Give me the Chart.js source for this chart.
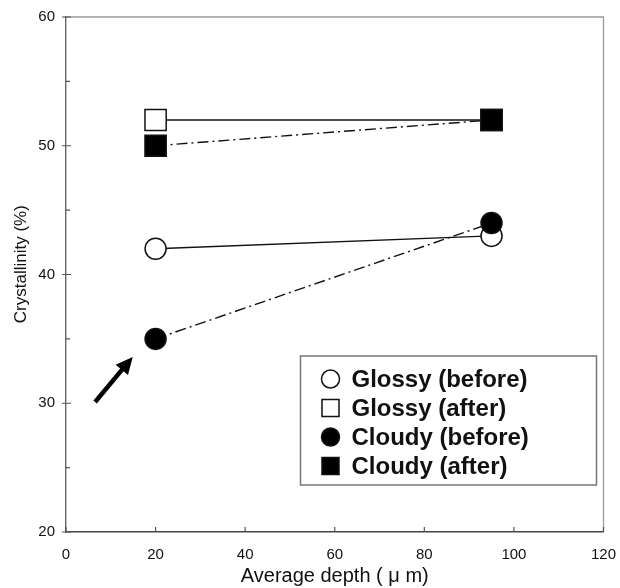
<!DOCTYPE html>
<html><head><meta charset="utf-8">
<script src="https://cdn.jsdelivr.net/npm/chart.js@4/dist/chart.umd.min.js"></script>
<style>html,body{margin:0;padding:0;background:#fff}</style>
</head><body>
<canvas id="c" width="620" height="588"></canvas>
<script>
// ---- data ----
const depths = [20, 95];
const glossyBefore = [42, 43];
const glossyAfter = [52, 52];
const cloudyBefore = [35, 44];
const cloudyAfter = [50, 52];
const xTickValues = [0, 20, 40, 60, 80, 100, 120];
const yTickValues = [20, 30, 40, 50, 60];
const yMinorTickValues = [25, 35, 45, 55];
const seriesLabels = ['Glossy (before)', 'Glossy (after)', 'Cloudy (before)', 'Cloudy (after)'];
const xTitle = 'Average depth ( μ m)';
const yTitle = 'Crystallinity (%)';
const arrowFrom = [6.5, 30.1];
const arrowTo = [14.9, 33.6];

const FONT = '"Liberation Sans", Arial, "Noto Sans CJK JP", sans-serif';
const toPts = ys => depths.map((x, i) => ({x: x, y: ys[i]}));
const DASHDOT = [11, 4, 2, 4];

const seriesStyles = [
  {style: 'circle', fill: '#fff', dash: [], radius: 10.5},
  {style: 'rect', fill: '#fff', dash: [], radius: 15},
  {style: 'circle', fill: '#000', dash: DASHDOT, radius: 10.5},
  {style: 'rect', fill: '#000', dash: DASHDOT, radius: 15}
];
const seriesData = [glossyBefore, glossyAfter, cloudyBefore, cloudyAfter];

const datasets = seriesData.map((d, i) => ({
  label: seriesLabels[i],
  data: toPts(d),
  borderColor: '#111',
  borderWidth: 1.4,
  borderDash: seriesStyles[i].dash,
  pointStyle: seriesStyles[i].style,
  pointRadius: seriesStyles[i].radius,
  pointHoverRadius: seriesStyles[i].radius,
  pointBackgroundColor: seriesStyles[i].fill,
  pointBorderColor: '#111',
  pointBorderWidth: 1.5,
  order: i < 2 ? 1 : 0,
  fill: false,
  tension: 0
}));

const decor = {
  id: 'decor',
  beforeDatasetsDraw(chart) {
    const {ctx, chartArea: a, scales: {x, y}} = chart;
    ctx.save();
    ctx.strokeStyle = '#9a9a9a';
    ctx.lineWidth = 1.3;
    ctx.beginPath();
    ctx.moveTo(a.left, a.top); ctx.lineTo(a.right, a.top); ctx.lineTo(a.right, a.bottom);
    ctx.stroke();
    ctx.strokeStyle = '#555';
    ctx.lineWidth = 1.2;
    ctx.beginPath();
    yTickValues.forEach(v => { const p = y.getPixelForValue(v); ctx.moveTo(a.left - 4, p); ctx.lineTo(a.left + 5, p); });
    yMinorTickValues.forEach(v => { const p = y.getPixelForValue(v); ctx.moveTo(a.left, p); ctx.lineTo(a.left + 4, p); });
    xTickValues.forEach(v => { const p = x.getPixelForValue(v); ctx.moveTo(p, a.bottom); ctx.lineTo(p, a.bottom - 5); });
    ctx.stroke();
    // y-axis title (slightly above centre, as in the original)
    ctx.fillStyle = '#111';
    ctx.font = '17px ' + FONT;
    ctx.textAlign = 'center'; ctx.textBaseline = 'middle';
    ctx.translate(21, a.top + (a.bottom - a.top) * 0.48);
    ctx.rotate(-Math.PI / 2);
    ctx.fillText(yTitle, 0, 0);
    ctx.restore();
  },
  afterDraw(chart) {
    const {ctx, chartArea: a, scales: {x, y}} = chart;
    ctx.save();
    const x0 = x.getPixelForValue(arrowFrom[0]), y0 = y.getPixelForValue(arrowFrom[1]);
    const x1 = x.getPixelForValue(arrowTo[0]), y1 = y.getPixelForValue(arrowTo[1]);
    const ang = Math.atan2(y1 - y0, x1 - x0);
    const ux = Math.cos(ang), uy = Math.sin(ang);
    const headL = 17, headW = 8;
    ctx.strokeStyle = '#000'; ctx.fillStyle = '#000';
    ctx.lineWidth = 4.5; ctx.lineCap = 'butt';
    ctx.beginPath(); ctx.moveTo(x0, y0); ctx.lineTo(x1 - ux * (headL - 2), y1 - uy * (headL - 2)); ctx.stroke();
    ctx.beginPath();
    ctx.moveTo(x1, y1);
    ctx.lineTo(x1 - ux * headL - uy * headW, y1 - uy * headL + ux * headW);
    ctx.lineTo(x1 - ux * headL + uy * headW, y1 - uy * headL - ux * headW);
    ctx.closePath(); ctx.fill();

    const bw = 296, bh = 129;
    const bx = a.right - 7 - bw, by = a.bottom - 47 - bh;
    ctx.fillStyle = '#fff';
    ctx.fillRect(bx, by, bw, bh);
    ctx.strokeStyle = '#777'; ctx.lineWidth = 1.5;
    ctx.strokeRect(bx, by, bw, bh);
    ctx.font = 'bold 24px ' + FONT;
    ctx.textBaseline = 'middle'; ctx.textAlign = 'left';
    seriesLabels.forEach((lab, i) => {
      const cy = by + 23 + 29 * i, cx = bx + 30;
      const s = seriesStyles[i];
      ctx.fillStyle = s.fill; ctx.strokeStyle = '#111'; ctx.lineWidth = 1.5;
      ctx.beginPath();
      if (s.style === 'circle') ctx.arc(cx, cy, 9, 0, Math.PI * 2);
      else ctx.rect(cx - 8.5, cy - 8.5, 17, 17);
      ctx.fill(); ctx.stroke();
      ctx.fillStyle = '#111';
      ctx.fillText(lab, bx + 51, cy + 1);
    });
    ctx.restore();
  }
};

new Chart(document.getElementById('c'), {
  type: 'line',
  data: {datasets},
  options: {
    responsive: false,
    animation: false,
    events: [],
    layout: {padding: {top: 17, right: 13, left: 0, bottom: 0}},
    plugins: {legend: {display: false}, tooltip: {enabled: false}},
    scales: {
      x: {
        type: 'linear', min: 0, max: 120,
        afterFit(s) { s.height = 56; s.paddingLeft = 0; s.paddingRight = 0; },
        afterBuildTicks(s) { s.ticks = xTickValues.map(v => ({value: v})); },
        grid: {display: false, drawTicks: false},
        border: {display: true, color: '#444', width: 1.4},
        ticks: {color: '#111', font: {family: FONT, size: 15}, padding: 14, maxRotation: 0, autoSkip: false},
        title: {display: true, text: xTitle, color: '#111', font: {family: FONT, size: 20}, padding: {top: 0, bottom: 0}}
      },
      y: {
        type: 'linear', min: 20, max: 60,
        afterFit(s) { s.width = 66; s.paddingTop = 0; s.paddingBottom = 0; },
        afterBuildTicks(s) { s.ticks = yTickValues.map(v => ({value: v})); },
        grid: {display: false, drawTicks: false},
        border: {display: true, color: '#666', width: 1.4},
        ticks: {color: '#111', font: {family: FONT, size: 15}, padding: 11},
        title: {display: false}
      }
    }
  },
  plugins: [decor]
});
</script>
</body></html>
